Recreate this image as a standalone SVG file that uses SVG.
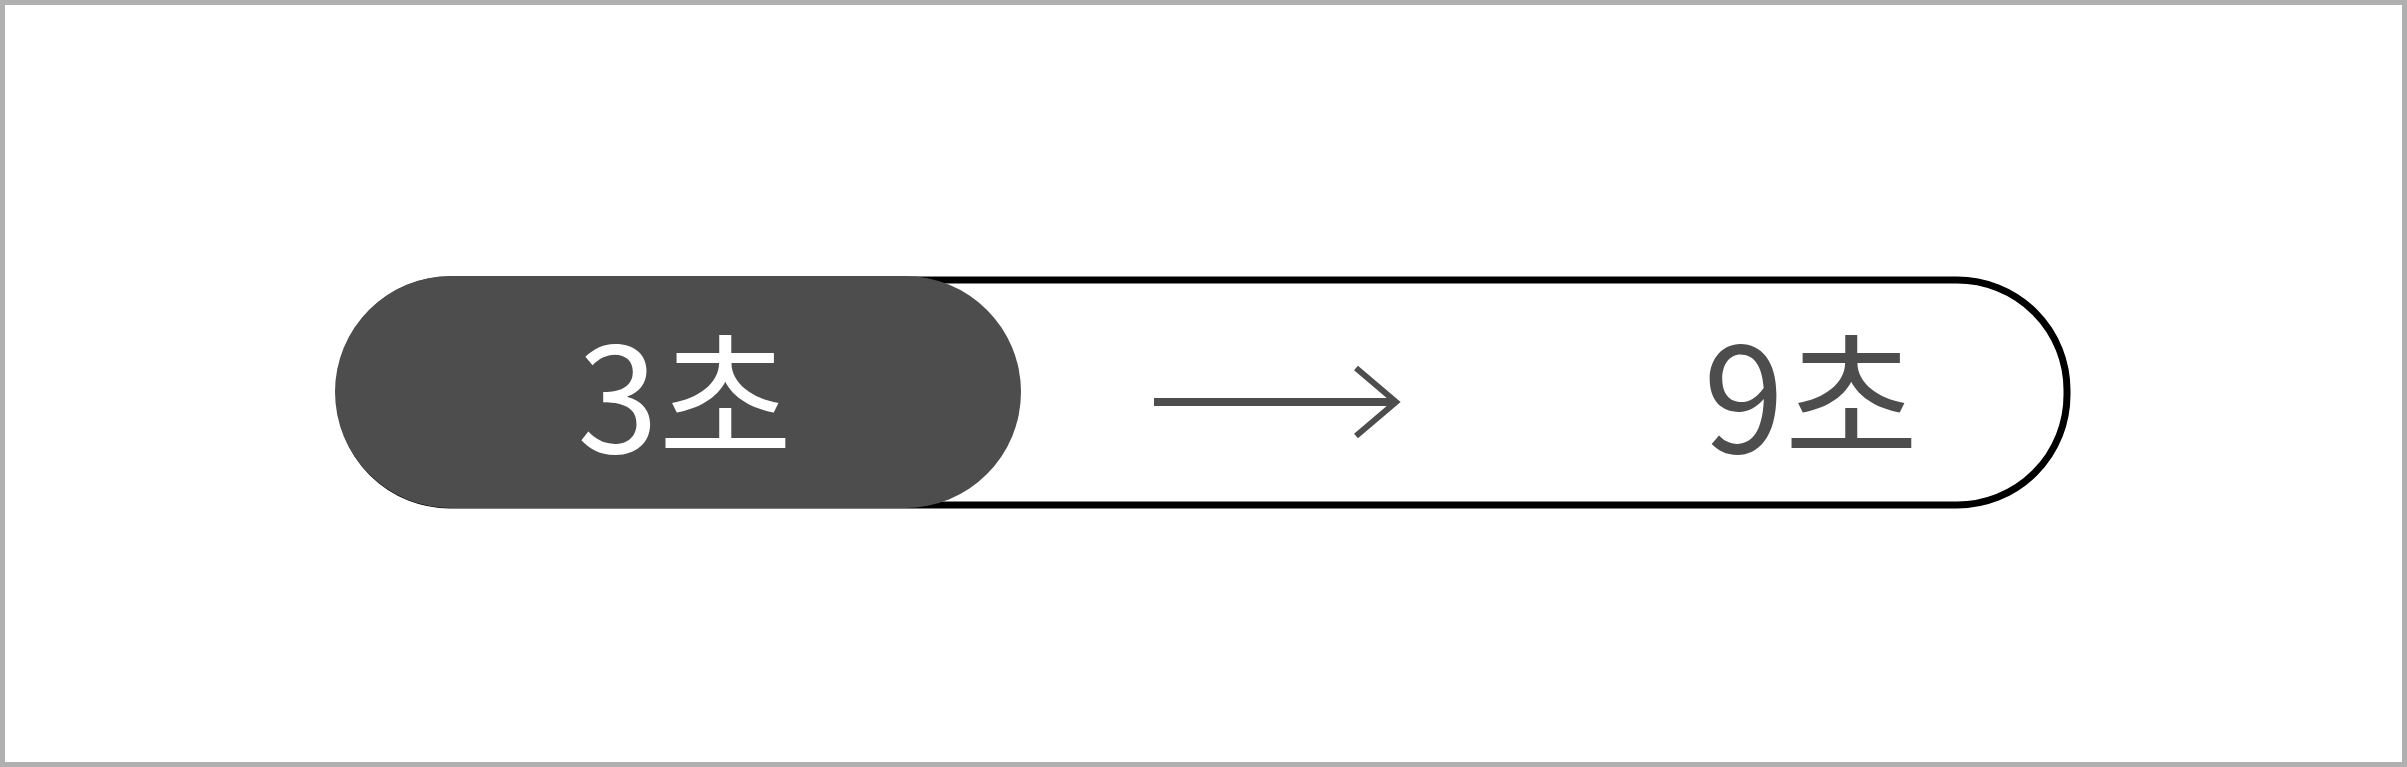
<svg xmlns="http://www.w3.org/2000/svg" width="2407" height="767" viewBox="0 0 2407 767">
<style>
.lbl{font-family:"Noto Sans CJK KR","Noto Sans",sans-serif;font-size:146px;text-anchor:middle}
</style>
<rect x="2.5" y="2.5" width="2402" height="762" fill="#ffffff" stroke="#b0b0b0" stroke-width="5"/>
<g id="track">
<rect x="340" y="280" width="1727" height="225" rx="110" ry="110" fill="#ffffff" stroke="#000000" stroke-width="7"/>
</g>
<g id="current">
<rect x="335" y="276" width="686" height="232" rx="116" ry="116" fill="#4d4d4d"/>
<text class="lbl" x="685" y="453" fill="#ffffff">3초</text>
</g>
<g id="connectors">
<line x1="1154" y1="402" x2="1394" y2="402" stroke="#4d4d4d" stroke-width="8"/>
<polyline points="1356,368 1396,402 1356,436" fill="none" stroke="#4d4d4d" stroke-width="6"/>
</g>
<g id="target">
<text class="lbl" x="1811" y="453" fill="#4d4d4d">9초</text>
</g>
</svg>
